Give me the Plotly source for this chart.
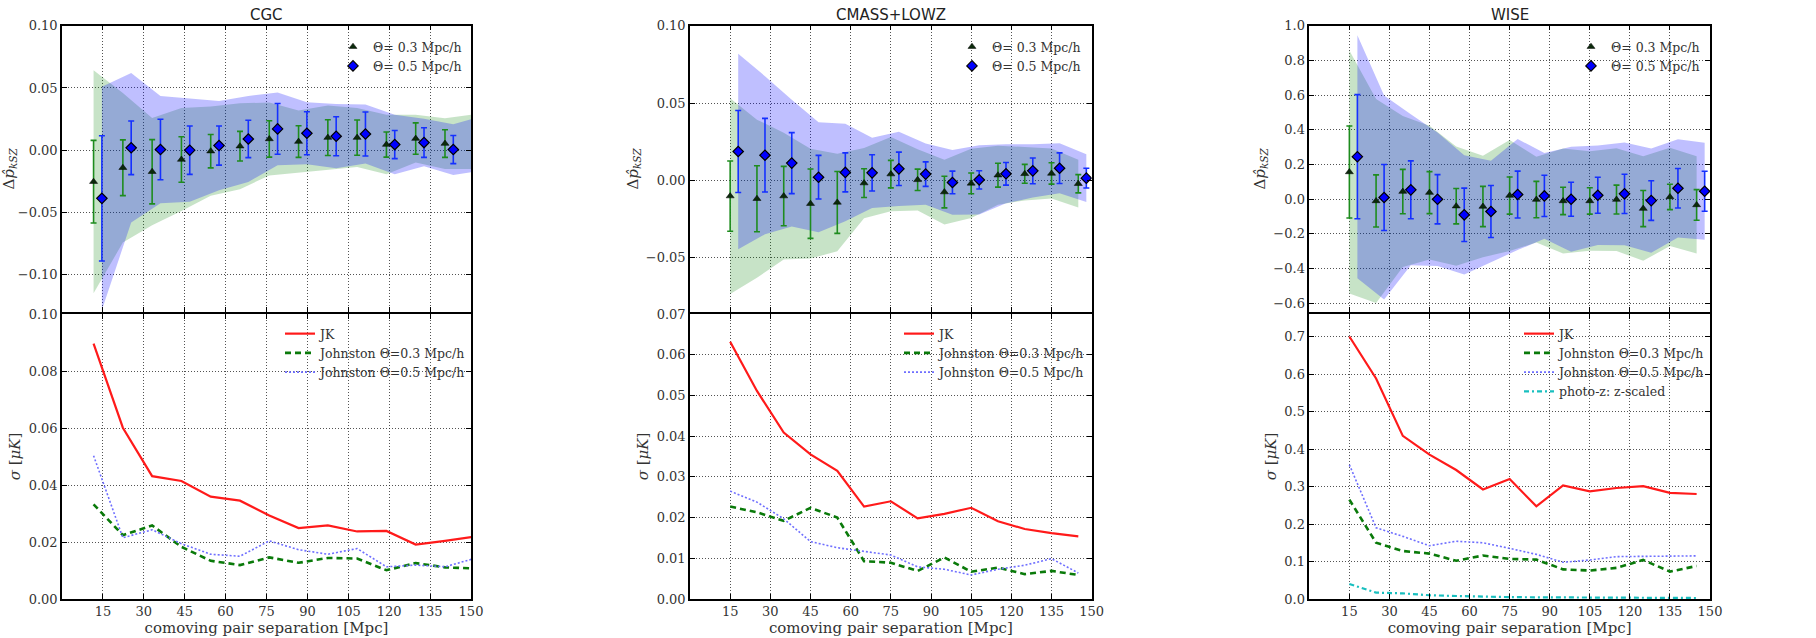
import plotly.graph_objects as go

# ---------------- data ----------------
# CGC
cgc_x3 = [11.58, 22.32, 33.06, 43.80, 54.54, 65.28, 76.02, 86.76, 97.50, 108.24, 118.98, 129.72, 140.46, 151.20]
cgc_x5 = [14.63, 25.37, 36.11, 46.85, 57.59, 68.33, 79.07, 89.81, 100.55, 111.29, 122.03, 132.77, 143.51, 154.25]
cgc_p3 = [-0.0253, -0.0141, -0.0173, -0.0075, -0.0008, 0.0032, 0.0090, 0.0069, 0.0101, 0.0101, 0.0045, 0.0093, 0.0053, 0.0068]
cgc_p5 = [-0.0387, 0.0019, 0.0005, 0.0000, 0.0037, 0.0090, 0.0171, 0.0136, 0.0112, 0.0130, 0.0045, 0.0061, 0.0005, 0.0056]
cgc_jk = [0.0896, 0.0601, 0.0431, 0.0414, 0.0359, 0.0345, 0.0293, 0.0249, 0.0258, 0.0237, 0.0239, 0.0191, 0.0204, 0.0219]
cgc_j3 = [0.0332, 0.0224, 0.0258, 0.0183, 0.0134, 0.0119, 0.0146, 0.0127, 0.0144, 0.0142, 0.0101, 0.0126, 0.0111, 0.0107]
cgc_j5 = [0.0503, 0.0215, 0.0243, 0.0194, 0.0157, 0.0150, 0.0204, 0.0173, 0.0157, 0.0177, 0.0113, 0.0119, 0.0113, 0.0142]

# CMASS+LOWZ
cm_x3 = [15, 25, 35, 45, 55, 65, 75, 85, 95, 105, 115, 125, 135, 145]
cm_x5 = [18, 28, 38, 48, 58, 68, 78, 88, 98, 108, 118, 128, 138, 148]
cm_p3 = [-0.0101, -0.0118, -0.0101, -0.0150, -0.0142, -0.0017, 0.0041, 0.0004, -0.0075, -0.0019, 0.0034, 0.0043, 0.0045, -0.0021]
cm_p5 = [0.0187, 0.0163, 0.0112, 0.0021, 0.0052, 0.0049, 0.0075, 0.0041, -0.0013, 0.0004, 0.0043, 0.0062, 0.0079, 0.0015]
cm_jk = [0.0632, 0.0511, 0.0409, 0.0355, 0.0315, 0.0227, 0.0240, 0.0198, 0.0209, 0.0224, 0.0191, 0.0172, 0.0162, 0.0154]
cm_j3 = [0.0227, 0.0213, 0.0192, 0.0224, 0.0200, 0.0093, 0.0089, 0.0069, 0.0102, 0.0067, 0.0077, 0.0061, 0.0069, 0.0059]
cm_j5 = [0.0265, 0.0238, 0.0197, 0.0141, 0.0126, 0.0117, 0.0108, 0.0079, 0.0073, 0.0059, 0.0073, 0.0083, 0.0099, 0.0064]

# WISE
wi_x3 = [15, 25, 35, 45, 55, 65, 75, 85, 95, 105, 115, 125, 135, 145]
wi_x5 = [18, 28, 38, 48, 58, 68, 78, 88, 98, 108, 118, 128, 138, 148]
wi_p3 = [0.157, -0.010, 0.044, 0.038, -0.040, -0.042, 0.021, -0.002, -0.010, -0.010, -0.002, -0.054, 0.013, -0.033]
wi_p5 = [0.245, 0.010, 0.054, 0.000, -0.090, -0.071, 0.027, 0.019, 0.000, 0.023, 0.031, -0.008, 0.063, 0.046]
wi_jk = [0.700, 0.588, 0.435, 0.385, 0.344, 0.292, 0.320, 0.247, 0.303, 0.287, 0.296, 0.301, 0.283, 0.280]
wi_j3 = [0.265, 0.150, 0.128, 0.121, 0.102, 0.116, 0.107, 0.105, 0.079, 0.076, 0.083, 0.104, 0.073, 0.088]
wi_j5 = [0.358, 0.190, 0.167, 0.142, 0.154, 0.150, 0.135, 0.119, 0.098, 0.104, 0.113, 0.114, 0.114, 0.115]
wi_pz = [0.040, 0.017, 0.015, 0.010, 0.008, 0.006, 0.005, 0.0045, 0.004, 0.0035, 0.003, 0.003, 0.003, 0.0027]

x_ticks = [15, 30, 45, 60, 75, 90, 105, 120, 135, 150]
titles = ["CGC", "CMASS+LOWZ", "WISE"]

# ---------------- styling / layout ----------------
W, H = 1816, 638
SERIF = "DejaVu Serif"
SANS = "DejaVu Sans"

panels = [
    dict(title=titles[0], x3=cgc_x3, x5=cgc_x5, p3=cgc_p3, p5=cgc_p5, jk=cgc_jk, j3=cgc_j3, j5=cgc_j5, pz=None,
         top_range=[-0.13, 0.10], top_dtick=0.05, top_fmt=".2f",
         bot_range=[0, 0.10], bot_dtick=0.02, bot_fmt=".2f", px=(62, 471),
         leg_top=375, leg_bot=322),
    dict(title=titles[1], x3=cm_x3, x5=cm_x5, p3=cm_p3, p5=cm_p5, jk=cm_jk, j3=cm_j3, j5=cm_j5, pz=None,
         top_range=[-0.085, 0.10], top_dtick=0.05, top_fmt=".2f",
         bot_range=[0, 0.07], bot_dtick=0.01, bot_fmt=".2f", px=(690, 1091.7),
         leg_top=994, leg_bot=941),
    dict(title=titles[2], x3=wi_x3, x5=wi_x5, p3=wi_p3, p5=wi_p5, jk=wi_jk, j3=wi_j3, j5=wi_j5, pz=wi_pz,
         top_range=[-0.65, 1.0], top_dtick=0.2, top_fmt=".1f",
         bot_range=[0, 0.76], bot_dtick=0.1, bot_fmt=".1f", px=(1309.3, 1710),
         leg_top=1613, leg_bot=1561),
]

TOP_Y = (25.7, 312.0)
BOT_Y = (314.0, 599.0)

GREEN_BAND = "rgba(0,128,0,0.22)"
BLUE_BAND = "rgba(0,0,255,0.25)"
GREEN_ERR = "#1e8c1e"
BLUE_ERR = "#1530ff"


def ydom(a, b):
    return [1 - b / H, 1 - a / H]


fig = go.Figure()
layout = dict(
    width=W, height=H,
    margin=dict(l=0, r=0, t=0, b=0),
    paper_bgcolor="white", plot_bgcolor="white",
    font=dict(family=SERIF, size=13, color="#222"),
    showlegend=True,
    annotations=[],
)

axis_common = dict(
    showline=True, linecolor="black", linewidth=1.5, mirror="allticks",
    ticks="inside", ticklen=5, tickwidth=1.3, tickcolor="black",
    showgrid=True, gridcolor="rgba(40,40,40,0.8)", gridwidth=1, griddash="1px,2px",
    zeroline=False, automargin=False,
    tickfont=dict(family=SERIF, size=13, color="#333"),
)

for i, p in enumerate(panels):
    ti, bi = 2 * i + 1, 2 * i + 2
    xt, yt = f"x{ti}", f"y{ti}"
    xb, yb = f"x{bi}", f"y{bi}"
    xd = [p["px"][0] / W, p["px"][1] / W]
    lt, lb = f"legend{'' if ti == 1 else ti}", f"legend{bi}"

    # --- top panel: bands (value +- JK) ---
    for xs, ps, col in ((p["x3"], p["p3"], GREEN_BAND), (p["x5"], p["p5"], BLUE_BAND)):
        up = [v + s for v, s in zip(ps, p["jk"])]
        lo = [v - s for v, s in zip(ps, p["jk"])]
        fig.add_trace(go.Scatter(
            x=list(xs) + list(xs)[::-1], y=up + lo[::-1], fill="toself",
            fillcolor=col, line=dict(width=0), mode="lines",
            showlegend=False, hoverinfo="skip", xaxis=xt, yaxis=yt))

    # --- top panel: points with Johnston error bars ---
    m3 = [k for k, xv in enumerate(p["x3"]) if xv <= 150]
    m5 = [k for k, xv in enumerate(p["x5"]) if xv <= 150]
    fig.add_trace(go.Scatter(
        x=[p["x3"][k] for k in m3], y=[p["p3"][k] for k in m3], mode="markers",
        error_y=dict(type="data", array=[p["j3"][k] for k in m3], color=GREEN_ERR, thickness=1.6, width=3),
        marker=dict(symbol="triangle-up", size=7, color="#0b2a0b", line=dict(width=0.5, color="black")),
        name="\u0398= 0.3 Mpc/h", legend=lt, xaxis=xt, yaxis=yt))
    fig.add_trace(go.Scatter(
        x=[p["x5"][k] for k in m5], y=[p["p5"][k] for k in m5], mode="markers",
        error_y=dict(type="data", array=[p["j5"][k] for k in m5], color=BLUE_ERR, thickness=1.6, width=3),
        marker=dict(symbol="diamond", size=8, color="#0000ff", line=dict(width=1.2, color="black")),
        name="\u0398= 0.5 Mpc/h", legend=lt, xaxis=xt, yaxis=yt))

    # --- bottom panel: sigma curves ---
    fig.add_trace(go.Scatter(x=p["x3"], y=p["jk"], mode="lines", line=dict(color="#ff1a1a", width=2.2),
                             name="JK", legend=lb, xaxis=xb, yaxis=yb))
    fig.add_trace(go.Scatter(x=p["x3"], y=p["j3"], mode="lines",
                             line=dict(color="#0a7a0a", width=2.6, dash="6px,4px"),
                             name="Johnston \u0398=0.3 Mpc/h", legend=lb, xaxis=xb, yaxis=yb))
    fig.add_trace(go.Scatter(x=p["x3"], y=p["j5"], mode="lines",
                             line=dict(color="#6f6fff", width=1.6, dash="2px,2px"),
                             name="Johnston \u0398=0.5 Mpc/h", legend=lb, xaxis=xb, yaxis=yb))
    if p["pz"] is not None:
        fig.add_trace(go.Scatter(x=p["x3"], y=p["pz"], mode="lines",
                                 line=dict(color="#19bfbf", width=2.2, dash="5px,3px,2px,3px"),
                                 name="photo-z: z-scaled", legend=lb, xaxis=xb, yaxis=yb))

    # --- axes ---
    ax_t = "xaxis" if ti == 1 else f"xaxis{ti}"
    ay_t = "yaxis" if ti == 1 else f"yaxis{ti}"
    layout[ax_t] = dict(axis_common, domain=xd, anchor=yt, range=[0, 150],
                        tickvals=x_ticks, showticklabels=False)
    layout[ay_t] = dict(axis_common, domain=ydom(*TOP_Y), anchor=xt, range=p["top_range"],
                        dtick=p["top_dtick"], tick0=0, tickformat=p["top_fmt"],
                        title=dict(text="\u0394<i>p\u0302</i><sub><i>kSZ</i></sub>",
                                   font=dict(family=SERIF, size=15, color="#333"), standoff=4))
    layout[f"xaxis{bi}"] = dict(axis_common, domain=xd, anchor=yb, range=[0, 150],
                               tickvals=x_ticks, tickformat="d",
                               title=dict(text="comoving pair separation [Mpc]",
                                          font=dict(family=SERIF, size=15, color="#333"), standoff=4))
    layout[f"yaxis{bi}"] = dict(axis_common, domain=ydom(*BOT_Y), anchor=xb, range=p["bot_range"],
                               dtick=p["bot_dtick"], tick0=0, tickformat=p["bot_fmt"],
                               title=dict(text="<i>\u03c3</i> [<i>\u03bcK</i>]",
                                          font=dict(family=SERIF, size=15, color="#333"), standoff=4))

    # --- legends ---
    layout[lt] = dict(x=(p["leg_top"] - 42) / W, y=1 - 32 / H, xanchor="left", yanchor="top",
                      bgcolor="rgba(255,255,255,0)", borderwidth=0,
                      font=dict(family=SERIF, size=12.5, color="#333"))
    layout[lb] = dict(x=(p["leg_bot"] - 42) / W, y=1 - 319 / H, xanchor="left", yanchor="top",
                      bgcolor="rgba(255,255,255,0)", borderwidth=0,
                      font=dict(family=SERIF, size=12.5, color="#333"))

    # --- title ---
    layout["annotations"].append(dict(
        text=p["title"], x=(p["px"][0] + p["px"][1]) / 2 / W, y=1 - 15 / H,
        xref="paper", yref="paper", xanchor="center", yanchor="middle", showarrow=False,
        font=dict(family=SANS, size=15, color="#222")))

fig.update_layout(**layout)
fig.write_html("out.html")
